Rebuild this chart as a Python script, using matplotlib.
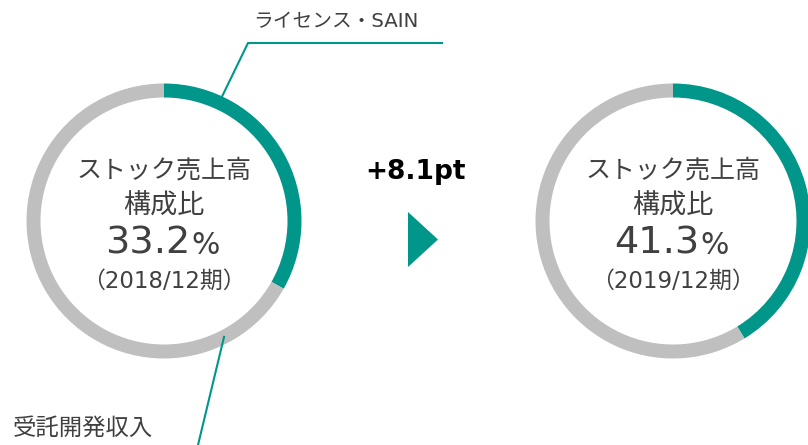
import numpy as np
import matplotlib.pyplot as plt

# ------------------------------------------------------------
# DATA
# ------------------------------------------------------------
periods = ["（2018/12期）", "（2019/12期）"]
stock_share = [33.2, 41.3]
other_share = [100 - v for v in stock_share]
diff_label = "+8.1pt"
center_title = ["ストック売上高", "構成比"]
label_stock = "ライセンス・SAIN"
label_other = "受託開発収入"

# ------------------------------------------------------------
# STYLE
# ------------------------------------------------------------
GREEN = "#00968A"
GRAY = "#BFBFBF"
TEXT = "#404040"
plt.rcParams["font.family"] = ["Noto Sans CJK JP", "DejaVu Sans"]
MIXED = ["DejaVu Sans", "Noto Sans CJK JP"]   # latin digits like Meiryo/Verdana

W, H = 808, 445
fig = plt.figure(figsize=(W / 100, H / 100), dpi=100)
ax = fig.add_axes([0, 0, 1, 1])

R = 137.5
RING = 14
centers = [(164, H - 221), (673, H - 221)]

for (cx, cy), s, o, per in zip(centers, stock_share, other_share, periods):
    ax.pie([s, o], colors=[GREEN, GRAY], startangle=90, counterclock=False,
           radius=R, center=(cx, cy),
           wedgeprops=dict(width=RING, linewidth=0))
    ax.text(cx, cy + 51, center_title[0], ha="center", va="center",
            fontsize=18, color=TEXT)
    ax.text(cx, cy + 15, center_title[1], ha="center", va="center",
            fontsize=19.5, color=TEXT)
    ax.text(cx + 26, cy - 22, f"{s:.1f}", ha="right", va="center",
            fontsize=27.5, color=TEXT, family=MIXED)
    ax.text(cx + 27, cy - 25, "%", ha="left", va="center",
            fontsize=21.5, color=TEXT, family=MIXED)
    ax.text(cx, cy - 60, per, ha="center", va="center",
            fontsize=16.5, color=TEXT, family=MIXED)

# change marker between rings
ax.text(416, H - 172, diff_label, ha="center", va="center",
        fontsize=19, fontweight="bold", color="black", family="DejaVu Sans")
ax.fill([408, 438, 408], [H - 212, H - 239.5, H - 267], color=GREEN, lw=0)

# leader lines
cx, cy = centers[0]
a1 = np.deg2rad(25)
p1 = (cx + R * np.sin(a1), cy + R * np.cos(a1))
ax.plot([p1[0], 248, 442], [p1[1], H - 43, H - 43], color=GREEN, lw=1.5)
ax.text(336, H - 22, label_stock, ha="center", va="center",
        fontsize=14.2, color=TEXT, family=MIXED)

a2 = np.deg2rad(152.6)
r2 = R - RING / 2
p2 = (cx + r2 * np.sin(a2), cy + r2 * np.cos(a2))
ax.plot([p2[0], 198], [p2[1], 0], color=GREEN, lw=1.5)
ax.text(13, H - 428, label_other, ha="left", va="center",
        fontsize=16.8, color=TEXT)

ax.set_xlim(0, W)
ax.set_ylim(0, H)
ax.set_aspect("equal")
ax.axis("off")

fig.savefig("out.png", dpi=100, facecolor="white")
